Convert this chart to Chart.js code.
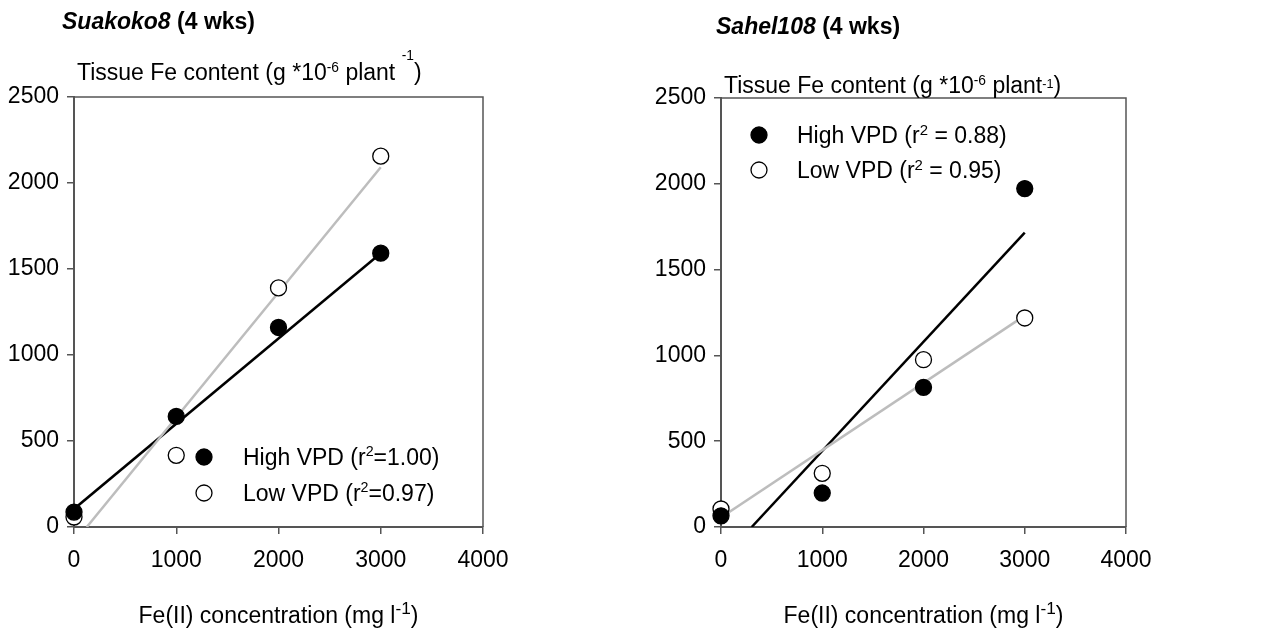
<!DOCTYPE html>
<html>
<head>
<meta charset="utf-8">
<script src="https://cdn.jsdelivr.net/npm/chart.js@4.4.1/dist/chart.umd.min.js"></script>
<style>
  html, body { margin: 0; padding: 0; background: #fff; }
  .panel { position: absolute; top: 0; height: 634px; }
  #leftWrap { left: 0; width: 640px; }
  #rightWrap { left: 640px; width: 641px; }
</style>
</head>
<body>
<div class="panel" id="leftWrap"><canvas id="chartLeft"></canvas></div>
<div class="panel" id="rightWrap"><canvas id="chartRight"></canvas></div>
<script>
// Fe(II) concentration (mg l-1) on x, tissue Fe content on y
const concentrations = [0, 1000, 2000, 3000];
const xTicks = [0, 1000, 2000, 3000, 4000];
const yTicks = [0, 500, 1000, 1500, 2000, 2500];

// Suakoko8 (4 wks)
const suakokoHigh = [87, 643, 1160, 1592];
const suakokoLow = [58, 417, 1390, 2156];
const suakokoHighFitX = [0, 3000];
const suakokoHighFitY = [105, 1592];
const suakokoLowFitX = [125, 3000];
const suakokoLowFitY = [0, 2092];

// Sahel108 (4 wks)
const sahelHigh = [65, 198, 814, 1972];
const sahelLow = [105, 313, 975, 1218];
const sahelHighFitX = [303, 3000];
const sahelHighFitY = [0, 1715];
const sahelLowFitX = [0, 3000];
const sahelLowFitY = [55, 1232];

const FONT = "'Liberation Sans', Arial, sans-serif";

function pts(xs, ys) {
    return xs.map((x, i) => ({ x: x, y: ys[i] }));
}

// draws a line of text made of parts (superscripts have s = size factor, dy = rise)
function drawRich(ctx, parts, x, y, size, align) {
    let w = 0;
    for (const p of parts) {
        ctx.font = (p.style || "") + " " + (size * (p.s || 1)) + "px " + FONT;
        w += ctx.measureText(p.t).width;
    }
    let cx = align === "center" ? x - w / 2 : x;
    ctx.textAlign = "left";
    ctx.textBaseline = "alphabetic";
    ctx.fillStyle = "#000";
    for (const p of parts) {
        ctx.font = (p.style || "") + " " + (size * (p.s || 1)) + "px " + FONT;
        ctx.fillText(p.t, cx, y - (p.dy || 0));
        cx += ctx.measureText(p.t).width;
    }
}

function drawDot(ctx, x, y, filled) {
    ctx.beginPath();
    ctx.arc(x, y, 8, 0, Math.PI * 2);
    ctx.fillStyle = filled ? "#000" : "#fff";
    ctx.fill();
    ctx.lineWidth = 1.3;
    ctx.strokeStyle = "#000";
    ctx.stroke();
}

const decorPlugin = {
    id: "decor",
    afterDraw(chart, args, opts) {
        const ctx = chart.ctx;
        const a = chart.chartArea;
        ctx.save();
        // top and right frame
        ctx.strokeStyle = "#555";
        ctx.lineWidth = 1.5;
        ctx.beginPath();
        ctx.moveTo(a.left, a.top);
        ctx.lineTo(a.right, a.top);
        ctx.lineTo(a.right, a.bottom);
        ctx.stroke();

        drawRich(ctx, opts.title, opts.titleX, opts.titleY, 23, "left");
        drawRich(ctx, opts.yTitle, a.left + 3, opts.yTitleY, 23, "left");
        drawRich(ctx, opts.xTitle, (a.left + a.right) / 2, 623, 23, "center");

        opts.legend.forEach(item => {
            drawDot(ctx, opts.legendMarkX, item.y, item.filled);
            drawRich(ctx, item.text, opts.legendTextX, item.y + 8, 23, "left");
        });
        ctx.restore();
    }
};

const xTitleParts = [
    { t: "Fe(II) concentration (mg l" },
    { t: "-1", s: 0.75, dy: 9 },
    { t: ")" }
];

function makeChart(id, highPts, lowPts, highFit, lowFit, padding, decor) {
    const axisCommon = {
        type: "linear",
        grid: { drawOnChartArea: false, drawTicks: true, tickLength: 7, color: "#555", lineWidth: 1.5 },
        border: { display: true, color: "#555", width: 2 }
    };
    const tickFont = { size: 23, family: FONT };
    return new Chart(document.getElementById(id), {
        type: "scatter",
        data: {
            datasets: [
                {
                    data: highPts, order: 0, showLine: false,
                    pointRadius: 8, pointBackgroundColor: "#000", pointBorderColor: "#000", pointBorderWidth: 1.3,
                    clip: false
                },
                {
                    data: lowPts, order: 0, showLine: false,
                    pointRadius: 8, pointBackgroundColor: "#fff", pointBorderColor: "#000", pointBorderWidth: 1.3,
                    clip: false
                },
                {
                    data: highFit, order: 2, showLine: true, pointRadius: 0,
                    borderColor: "#000", borderWidth: 2.5
                },
                {
                    data: lowFit, order: 1, showLine: true, pointRadius: 0,
                    borderColor: "#bdbdbd", borderWidth: 2.5
                }
            ]
        },
        options: {
            responsive: false,
            animation: false,
            layout: { padding: padding },
            plugins: { legend: { display: false }, tooltip: { enabled: false }, decor: decor },
            scales: {
                x: Object.assign({}, axisCommon, {
                    min: xTicks[0], max: xTicks[xTicks.length - 1],
                    afterBuildTicks: s => { s.ticks = xTicks.map(v => ({ value: v })); },
                    afterFit: s => { s.height = 107; },
                    ticks: { color: "#000", font: tickFont, padding: 13, maxRotation: 0, autoSkip: false,
                             callback: v => String(v) }
                }),
                y: Object.assign({}, axisCommon, {
                    min: yTicks[0], max: yTicks[yTicks.length - 1],
                    afterBuildTicks: s => { s.ticks = yTicks.map(v => ({ value: v })); },
                    afterFit: s => { s.width = 74; },
                    ticks: { color: "#000", font: tickFont, padding: 8, autoSkip: false,
                             callback: v => String(v) }
                })
            }
        },
        plugins: [decorPlugin]
    });
}

function sizeCanvas(id, w, h) {
    const c = document.getElementById(id);
    c.width = w; c.height = h;
    c.style.width = w + "px"; c.style.height = h + "px";
}
sizeCanvas("chartLeft", 640, 634);
sizeCanvas("chartRight", 641, 634);

makeChart("chartLeft",
    pts(concentrations, suakokoHigh), pts(concentrations, suakokoLow),
    pts(suakokoHighFitX, suakokoHighFitY), pts(suakokoLowFitX, suakokoLowFitY),
    { left: 0, top: 97, right: 157, bottom: 0 },
    {
        title: [{ t: "Suakoko8", style: "italic bold" }, { t: " (4 wks)", style: "bold" }],
        titleX: 62, titleY: 29,
        yTitle: [
            { t: "Tissue Fe content (g *10" }, { t: "-6", s: 0.6, dy: 8 },
            { t: " plant " }, { t: "-1", s: 0.6, dy: 20 }, { t: ")" }
        ],
        yTitleY: 80,
        xTitle: xTitleParts,
        legendMarkX: 204, legendTextX: 243,
        legend: [
            { y: 457, filled: true, text: [{ t: "High VPD (r" }, { t: "2", s: 0.62, dy: 9 }, { t: "=1.00)" }] },
            { y: 493, filled: false, text: [{ t: "Low VPD (r" }, { t: "2", s: 0.62, dy: 9 }, { t: "=0.97)" }] }
        ]
    });

makeChart("chartRight",
    pts(concentrations, sahelHigh), pts(concentrations, sahelLow),
    pts(sahelHighFitX, sahelHighFitY), pts(sahelLowFitX, sahelLowFitY),
    { left: 7, top: 98, right: 155, bottom: 0 },
    {
        title: [{ t: "Sahel108", style: "italic bold" }, { t: " (4 wks)", style: "bold" }],
        titleX: 76, titleY: 34,
        yTitle: [
            { t: "Tissue Fe content (g *10" }, { t: "-6", s: 0.6, dy: 8 },
            { t: " plant" }, { t: "-1", s: 0.55, dy: 5 }, { t: ")" }
        ],
        yTitleY: 93,
        xTitle: xTitleParts,
        legendMarkX: 119, legendTextX: 157,
        legend: [
            { y: 135, filled: true, text: [{ t: "High VPD (r" }, { t: "2", s: 0.65, dy: 8 }, { t: " = 0.88)" }] },
            { y: 170, filled: false, text: [{ t: "Low VPD (r" }, { t: "2", s: 0.65, dy: 8 }, { t: " = 0.95)" }] }
        ]
    });
</script>
</body>
</html>
